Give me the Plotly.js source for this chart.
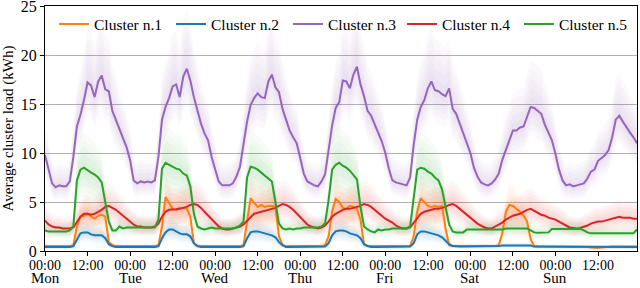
<!DOCTYPE html>
<html>
<head>
<meta charset="utf-8">
<script src="https://cdn.plot.ly/plotly-3.0.1.min.js"></script>
<style>html,body{margin:0;padding:0;background:#fff;}#chart{width:640px;height:288px;}</style>
</head>
<body>
<div id="chart"></div>
<script>
// Hour index of the week (Mon 00:00 = 0 ... Sun 23:00 = 167)
const hours = Array.from({length: 168}, (_, i) => i);

const tickHours = [0,12,24,36,48,60,72,84,96,108,120,132,144,156];
const tickLabels = ['00:00','12:00','00:00','12:00','00:00','12:00','00:00','12:00','00:00','12:00','00:00','12:00','00:00','12:00'];
const dayHours = [0,24,48,72,96,120,144];
const dayNames = ['Mon','Tue','Wed','Thu','Fri','Sat','Sun'];

const seriesNames = ['Cluster n.1','Cluster n.2','Cluster n.3','Cluster n.4','Cluster n.5'];

// Cluster n.1 (orange)
const cluster1 = [
 0.5,0.5,0.5,0.5,0.5,0.5,0.5,0.5,0.6,2.5,3.5,3.6,3.8,3.5,3.3,3.6,3.7,3.5,0.9,0.6,0.5,0.5,0.5,0.5,
 0.5,0.5,0.5,0.5,0.5,0.5,0.5,0.5,0.6,2.5,5.5,4.9,4.3,4.2,4.4,4.4,4.3,3.5,0.8,0.5,0.5,0.5,0.5,0.5,
 0.5,0.5,0.5,0.5,0.5,0.5,0.5,0.5,0.6,3.0,5.4,4.9,4.5,4.7,4.5,4.6,4.6,4.5,1.5,0.6,0.5,0.5,0.5,0.5,
 0.5,0.5,0.5,0.5,0.5,0.5,0.5,0.6,1.5,4.0,5.3,5.0,4.4,4.3,4.6,4.5,4.3,3.2,0.7,0.5,0.5,0.5,0.5,0.5,
 0.5,0.5,0.5,0.5,0.5,0.5,0.5,0.5,1.5,4.0,5.4,5.0,4.6,4.5,4.6,4.5,4.6,2.3,0.6,0.5,0.5,0.5,0.5,0.5,
 0.5,0.5,0.5,0.5,0.5,0.5,0.5,0.5,0.6,1.8,4.0,4.7,4.6,4.3,4.0,3.6,3.0,1.2,0.5,0.45,0.45,0.45,0.45,0.45,
 0.45,0.45,0.45,0.45,0.45,0.45,0.45,0.45,0.4,0.4,0.35,0.3,0.3,0.35,0.4,0.45,0.45,0.45,0.45,0.45,0.45,0.45,0.45,0.45
];
// Cluster n.2 (blue)
const cluster2 = [
 0.4,0.4,0.4,0.4,0.4,0.4,0.4,0.4,0.5,1.2,1.8,1.9,1.9,1.7,1.6,1.6,1.6,1.3,0.7,0.5,0.4,0.4,0.4,0.4,
 0.4,0.4,0.4,0.4,0.4,0.4,0.4,0.4,0.5,1.3,1.9,2.2,2.2,2.0,1.8,1.7,1.7,1.5,0.8,0.5,0.4,0.4,0.4,0.4,
 0.4,0.4,0.4,0.4,0.4,0.4,0.4,0.4,0.5,1.3,1.9,2.0,2.0,1.9,1.8,1.7,1.6,1.4,0.9,0.6,0.4,0.4,0.4,0.4,
 0.4,0.4,0.4,0.4,0.4,0.4,0.4,0.45,0.8,1.6,2.0,2.1,2.1,2.0,1.8,1.7,1.6,1.3,0.7,0.5,0.4,0.4,0.4,0.4,
 0.4,0.4,0.4,0.4,0.4,0.4,0.4,0.45,0.8,1.7,2.0,2.0,1.9,1.8,1.7,1.6,1.4,1.1,0.7,0.5,0.45,0.45,0.45,0.45,
 0.45,0.45,0.45,0.45,0.45,0.45,0.45,0.45,0.5,0.55,0.55,0.55,0.55,0.55,0.55,0.55,0.55,0.55,0.45,0.45,0.45,0.45,0.45,0.45,
 0.4,0.4,0.4,0.4,0.4,0.4,0.4,0.4,0.4,0.4,0.4,0.4,0.4,0.4,0.4,0.4,0.4,0.4,0.4,0.4,0.4,0.4,0.4,0.4
];
// Cluster n.3 (purple)
const cluster3 = [
 9.8,8.3,6.9,6.5,6.7,6.6,6.6,7.1,9.6,12.7,13.9,15.4,17.2,16.9,15.7,17.3,17.9,16.5,16.3,14.3,13.4,12.3,11.5,10.6,
 9.3,7.2,6.9,7.1,7.0,7.1,7.0,7.2,9.6,13.4,14.7,15.6,16.8,17.0,15.7,17.8,18.6,17.4,15.7,14.4,13.0,12.0,11.3,9.6,
 8.3,7.1,6.7,6.7,6.7,6.9,7.6,8.6,10.8,13.2,14.9,15.6,16.1,15.7,15.6,17.3,18.0,16.7,16.2,14.5,13.4,12.3,11.6,11.0,
 9.5,7.9,7.1,6.9,6.7,6.6,7.1,7.8,10.3,12.8,14.6,15.2,17.4,17.3,16.6,18.0,18.8,17.0,15.8,14.3,13.8,12.9,12.2,11.2,
 10.0,8.4,7.2,7.0,6.9,6.8,6.7,7.5,10.8,13.4,14.7,15.4,16.6,17.3,16.4,16.3,16.0,15.8,16.6,14.5,14.0,13.0,12.0,11.2,
 10.0,8.5,7.6,7.0,6.8,6.7,6.9,7.3,7.9,9.3,10.3,11.3,12.3,12.3,12.6,12.7,13.8,14.7,14.6,14.3,14.0,12.9,12.1,11.3,
 9.9,8.3,7.2,6.7,6.8,6.6,6.7,6.8,6.9,7.4,8.1,8.3,9.2,9.5,9.8,10.3,11.6,13.4,13.8,13.2,12.6,12.1,11.6,11.0
];
// Cluster n.4 (red)
const cluster4 = [
 3.1,2.7,2.5,2.4,2.4,2.3,2.3,2.3,2.4,3.0,3.5,3.8,3.8,3.7,3.8,4.0,4.2,4.5,4.6,4.4,4.2,3.9,3.6,3.3,
 3.0,2.7,2.5,2.5,2.4,2.4,2.4,2.5,2.8,3.5,4.0,4.2,4.2,4.25,4.3,4.4,4.5,4.7,4.8,4.7,4.4,4.0,3.6,3.2,
 2.8,2.5,2.3,2.2,2.2,2.3,2.4,2.5,2.7,3.1,3.5,3.8,3.9,4.0,4.1,4.2,4.3,4.4,4.6,4.8,4.7,4.5,4.2,3.8,
 3.4,3.0,2.7,2.5,2.4,2.3,2.4,2.6,3.0,3.5,3.8,4.0,4.2,4.3,4.3,4.4,4.5,4.6,4.8,4.7,4.5,4.2,3.9,3.6,
 3.3,3.1,2.9,2.6,2.4,2.3,2.3,2.4,2.9,3.4,3.8,4.0,4.1,4.2,4.3,4.3,4.4,4.5,4.7,4.8,4.6,4.3,4.0,3.7,
 3.4,3.1,2.8,2.6,2.4,2.3,2.3,2.5,2.7,2.9,3.2,3.4,3.6,3.7,3.8,4.0,4.2,4.3,4.1,3.9,3.7,3.6,3.4,3.3,
 3.2,3.0,2.8,2.6,2.4,2.35,2.3,2.35,2.45,2.6,2.8,2.9,3.0,3.0,3.1,3.2,3.3,3.4,3.5,3.4,3.4,3.4,3.3,3.3
];
// Cluster n.5 (green)
const cluster5 = [
 2.1,2.0,2.0,2.0,2.0,2.0,2.0,2.1,2.5,7.2,8.3,8.5,8.2,8.0,7.8,7.5,7.0,4.9,3.0,2.1,2.1,2.5,2.3,2.4,
 2.4,2.4,2.4,2.4,2.4,2.4,2.4,2.4,3.2,8.4,9.0,8.8,8.6,8.4,8.3,7.9,7.7,6.6,3.8,2.5,2.3,2.2,2.3,2.4,
 2.3,2.3,2.3,2.3,2.3,2.3,2.4,2.6,3.0,7.5,8.6,8.5,8.3,8.0,7.7,7.4,7.1,5.0,2.8,2.3,2.2,2.3,2.2,2.3,
 2.3,2.4,2.4,2.4,2.4,2.4,2.5,2.8,5.2,8.3,8.8,9.0,8.7,8.5,8.2,7.7,7.3,4.5,2.5,2.2,2.0,1.9,2.2,2.1,
 2.2,2.2,2.3,2.3,2.3,2.3,2.3,2.5,5.5,8.3,8.5,8.4,8.1,7.9,7.5,7.2,6.3,4.5,2.7,2.0,1.9,1.9,1.9,2.2,
 2.2,2.2,2.2,2.2,2.2,2.2,2.2,2.2,2.2,2.2,2.3,2.3,2.3,2.3,2.3,2.3,2.3,2.1,1.9,1.85,1.85,1.85,1.9,2.25,
 2.25,2.25,2.25,2.25,2.25,2.25,2.25,2.25,2.1,1.9,1.8,1.8,1.8,1.8,1.8,1.8,1.8,1.8,1.8,1.8,1.8,1.8,1.8,2.2
];

const clusters = [cluster1, cluster2, cluster3, cluster4, cluster5];
const colors = ['#ff7f0e','#1f77b4','#9467bd','#d62728','#2ca02c'];
const rgb = ['255,127,14','31,119,180','148,103,189','214,39,40','44,160,44'];
// relative spread of the outermost shaded band (upper, lower) per cluster, and band opacity
const bandUp = [0.45, 0.55, 0.32, 0.5, 0.42];
const bandDown = [0.6, 0.5, 0.2, 0.35, 0.35];
const bandAlpha = [0.04, 0.04, 0.04, 0.035, 0.03];
const bandSteps = 5;

const traces = [];
clusters.forEach((vals, c) => {
  for (let k = bandSteps; k >= 1; k--) {
    const up = vals.map(v => v * (1 + bandUp[c] * k / bandSteps));
    const dn = vals.map(v => v * (1 - bandDown[c] * k / bandSteps));
    traces.push({
      x: hours.concat(hours.slice().reverse()),
      y: up.concat(dn.slice().reverse()),
      type: 'scatter', mode: 'lines', fill: 'toself',
      fillcolor: 'rgba(' + rgb[c] + ',' + bandAlpha[c] + ')',
      line: {width: 0, color: 'rgba(0,0,0,0)'},
      hoverinfo: 'skip', showlegend: false
    });
  }
});
clusters.forEach((vals, c) => {
  traces.push({
    x: hours, y: vals, type: 'scatter', mode: 'lines',
    name: seriesNames[c], line: {color: colors[c], width: 2},
    legend: c < 3 ? 'legend' : 'legend2'
  });
});

const font = 'Liberation Serif';
const annotations = dayHours.map((h, i) => ({
  x: h, y: -0.151, xref: 'x', yref: 'paper', text: dayNames[i],
  showarrow: false, xanchor: 'center', yanchor: 'bottom',
  font: {family: font, size: 15, color: '#000'}
}));

const legendBase = {orientation: 'h', y: 0.925, xanchor: 'left', yanchor: 'middle',
  bgcolor: 'rgba(0,0,0,0)', font: {family: font, size: 15.5},
  entrywidth: 72, entrywidthmode: 'pixels'};

const layout = {
  width: 640, height: 288,
  margin: {l: 45, r: 3, t: 6, b: 37, autoexpand: false},
  paper_bgcolor: '#fff', plot_bgcolor: '#fff',
  font: {family: font, size: 14, color: '#000'},
  showlegend: true,
  legend: Object.assign({}, legendBase, {x: 0.0152}),
  legend2: Object.assign({}, legendBase, {x: 0.603}),
  xaxis: {range: [0, 167], tickmode: 'array', tickvals: tickHours, ticktext: tickLabels,
          ticks: 'outside', ticklen: 4, tickcolor: '#000', showgrid: false, zeroline: false,
          showline: true, linecolor: '#000', linewidth: 1, mirror: true,
          ticklabelstandoff: -3, ticklabeloverflow: 'allow',
          tickfont: {family: font, size: 14}},
  yaxis: {range: [0, 25], tickvals: [0,5,10,15,20,25], ticks: 'outside', ticklen: 4, tickcolor: '#000',
          showgrid: true, gridcolor: '#b0b0b0', gridwidth: 1, zeroline: false,
          showline: true, linecolor: '#000', linewidth: 1, mirror: true,
          ticklabeloverflow: 'allow',
          tickfont: {family: font, size: 16},
          title: {text: 'Average cluster load (kWh)', font: {family: font, size: 15}, standoff: 4}},
  annotations: annotations
};

Plotly.newPlot('chart', traces, layout, {displayModeBar: false, staticPlot: true});
</script>
</body>
</html>
